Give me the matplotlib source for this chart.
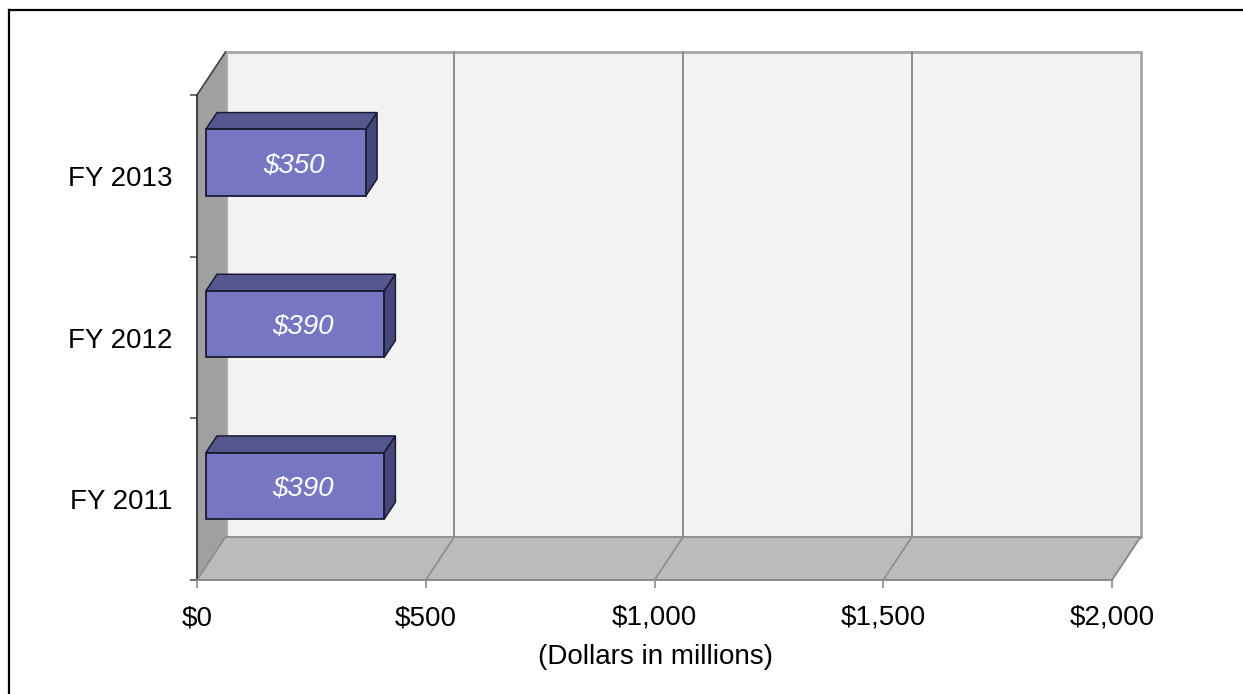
import matplotlib
matplotlib.use("Agg")
import matplotlib.pyplot as plt
from matplotlib.patches import Polygon
from matplotlib.lines import Line2D

plt.rcParams['font.family'] = ['Liberation Sans', 'DejaVu Sans']

# Chart data
categories = ["FY 2011", "FY 2012", "FY 2013"]
values = [390, 390, 350]
bar_labels = ["$390", "$390", "$350"]
x_ticks = [0, 500, 1000, 1500, 2000]
x_tick_labels = ["$0", "$500", "$1,000", "$1,500", "$2,000"]
x_title = "(Dollars in millions)"

FS = 20

W, H = 1243, 694
fig = plt.figure(figsize=(W / 100, H / 100), dpi=100)

# Front plane of the plot area (pixel extents)
x0_px, x1_px = 197, 1112
y_bot_px, y_top_px = 580, 95
ax = fig.add_axes([x0_px / W, 1 - y_bot_px / H,
                   (x1_px - x0_px) / W, (y_bot_px - y_top_px) / H])
vmax = x_ticks[-1]
ncat = len(categories)
ax.set_xlim(0, vmax)
ax.set_ylim(0, ncat)

# Depth offset of the 3D box, in data units
px_per_val = (x1_px - x0_px) / vmax
px_per_cat = (y_bot_px - y_top_px) / ncat
DX = 28.5 / px_per_val
DY = 43 / px_per_cat


def P(v, c, d):
    return (v + d * DX, c + d * DY)


def poly(pts, fc, ec="none", lw=0, z=1, **kw):
    ax.add_patch(Polygon(pts, closed=True, facecolor=fc, edgecolor=ec,
                         linewidth=lw, zorder=z, clip_on=False,
                         joinstyle="miter", **kw))


# Back wall
poly([P(0, 0, 1), P(vmax, 0, 1), P(vmax, ncat, 1), P(0, ncat, 1)],
     "#f2f2f2", "#a6a6a6", 2.0, z=1)
# Left side wall
poly([P(0, 0, 0), P(0, 0, 1), P(0, ncat, 1), P(0, ncat, 0)],
     "#a0a0a0", "none", 0, z=1.1)
# Floor
poly([P(0, 0, 0), P(vmax, 0, 0), P(vmax, 0, 1), P(0, 0, 1)],
     "#bbbbbb", "#8c8c8c", 1.2, z=1.2)

# Gridlines on back wall and floor
for v in x_ticks[1:]:
    if v < vmax:
        ax.plot(*zip(P(v, 0, 1), P(v, ncat, 1)), color="#8c8c8c",
                lw=1.4, zorder=1.3, clip_on=False)
    ax.plot(*zip(P(v, 0, 0), P(v, 0, 1)), color="#8c8c8c",
            lw=1.2, zorder=1.3, clip_on=False)

# Top edge of the left wall
ax.plot(*zip(P(0, ncat, 0), P(0, ncat, 1)), color="#404040", lw=1.2,
        zorder=1.4, clip_on=False)

# 3D bars
f0, f1 = 0.31, 0.70
half = 0.205
front_c = "#7676c2"
top_c = "#57578f"
side_c = "#46467a"
edge_c = "#1a1a33"
for i, (v, lab) in enumerate(zip(values, bar_labels)):
    cy = i + 0.5
    lo, hi = cy - half, cy + half
    poly([P(0, hi, f0), P(v, hi, f0), P(v, hi, f1), P(0, hi, f1)],
         top_c, edge_c, 1.1, z=3)
    poly([P(v, lo, f0), P(v, lo, f1), P(v, hi, f1), P(v, hi, f0)],
         side_c, edge_c, 1.1, z=3)
    poly([P(0, lo, f0), P(v, lo, f0), P(v, hi, f0), P(0, hi, f0)],
         front_c, edge_c, 1.3, z=4)
    tx, ty = P(v / 2, cy, f0)
    ax.text(tx + 8 / px_per_val, ty - 3 / px_per_cat, lab, color="white",
            style="italic", fontsize=FS, ha="center", va="center", zorder=5)

# Axes lines and ticks
for s in ("top", "right"):
    ax.spines[s].set_visible(False)
ax.spines["left"].set_color("#333333")
ax.spines["left"].set_linewidth(1.3)
ax.spines["bottom"].set_color("#8c8c8c")
ax.spines["bottom"].set_linewidth(1.3)
ax.patch.set_visible(False)

ax.set_xticks(x_ticks)
ax.set_xticklabels(x_tick_labels, fontsize=FS)
ax.tick_params(axis="x", length=6, width=1.2, color="#8c8c8c", pad=12)

ax.set_yticks([i + 0.5 for i in range(ncat)])
ax.set_yticklabels(categories, fontsize=FS)
ax.set_yticks(range(ncat + 1), minor=True)
ax.tick_params(axis="y", which="major", length=0, pad=18)
ax.tick_params(axis="y", which="minor", length=5, width=1.2, color="#555555")

fig.text(655 / W, 1 - 657 / H, x_title, fontsize=FS, ha="center", va="center")

# Outer frame (top and left edges)
fig.add_artist(Line2D([9 / W, 1], [1 - 10 / H, 1 - 10 / H],
                      transform=fig.transFigure, color="black", lw=1.6))
fig.add_artist(Line2D([9 / W, 9 / W], [0, 1 - 10 / H],
                      transform=fig.transFigure, color="black", lw=1.6))

fig.savefig("out.png", dpi=100, facecolor="white")
